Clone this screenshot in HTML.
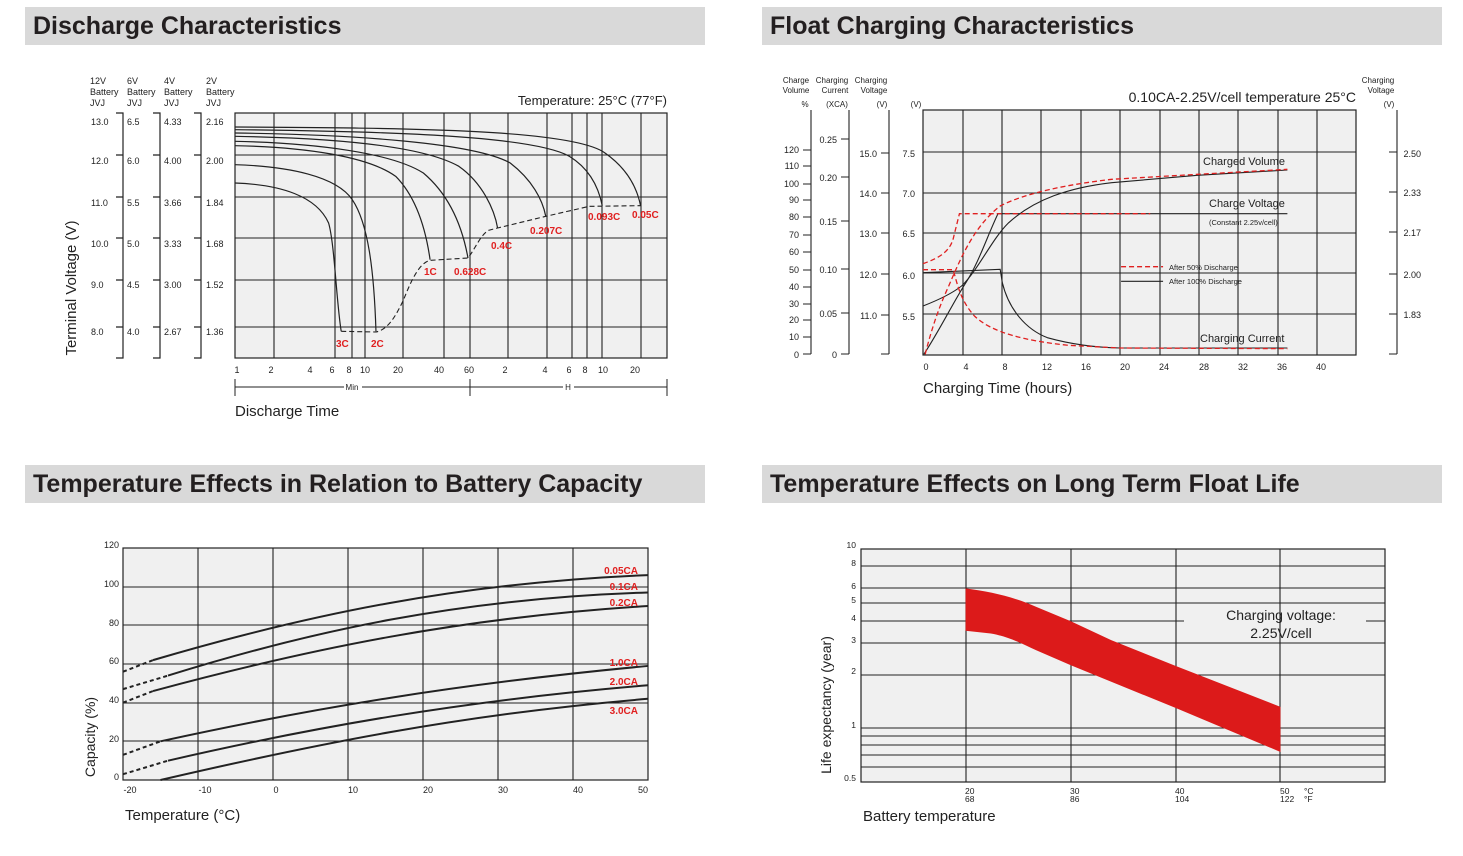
<!DOCTYPE html>
<html><head><meta charset="utf-8"><style>
body{margin:0;background:#fff;width:1463px;height:856px;overflow:hidden;font-family:"Liberation Sans",sans-serif}
svg{position:absolute;left:0;top:0}
text{font-family:"Liberation Sans",sans-serif}
</style></head><body>
<svg width="1463" height="856" viewBox="0 0 1463 856">
<rect x="25" y="7" width="680" height="38" fill="#d9d9d9"/>
<rect x="762" y="7" width="680" height="38" fill="#d9d9d9"/>
<rect x="25" y="465" width="680" height="38" fill="#d9d9d9"/>
<rect x="762" y="465" width="680" height="38" fill="#d9d9d9"/>
<g font-weight="bold" font-size="25" fill="#231f20">
<text x="33" y="34">Discharge Characteristics</text>
<text x="770" y="34">Float Charging Characteristics</text>
<text x="33" y="492">Temperature Effects in Relation to Battery Capacity</text>
<text x="770" y="492">Temperature Effects on Long Term Float Life</text>
</g>

<!-- ========== TOP LEFT ========== -->
<rect x="235" y="113" width="432" height="245" fill="#f0f0f0" stroke="#222" stroke-width="1.2"/>
<g stroke="#222" stroke-width="1.1">
<line x1="274" y1="113" x2="274" y2="358"/><line x1="335" y1="113" x2="335" y2="358"/>
<line x1="352" y1="113" x2="352" y2="358"/><line x1="365" y1="113" x2="365" y2="358"/>
<line x1="403" y1="113" x2="403" y2="358"/><line x1="444" y1="113" x2="444" y2="358"/>
<line x1="470" y1="113" x2="470" y2="358"/><line x1="508" y1="113" x2="508" y2="358"/>
<line x1="547" y1="113" x2="547" y2="358"/><line x1="572" y1="113" x2="572" y2="358"/>
<line x1="587" y1="113" x2="587" y2="358"/><line x1="602" y1="113" x2="602" y2="358"/>
<line x1="641" y1="113" x2="641" y2="358"/>
<line x1="235" y1="155" x2="667" y2="155"/><line x1="235" y1="197" x2="667" y2="197"/>
<line x1="235" y1="238" x2="667" y2="238"/><line x1="235" y1="280" x2="667" y2="280"/>
<line x1="235" y1="327" x2="667" y2="327"/>
</g>
<g transform="translate(235,113) scale(0.39488,0.33333) translate(-443,-130)" fill="none" stroke="#222">
<path vector-effect="non-scaling-stroke" stroke-width="1.2" d="M443 172 C900 175 1300 180 1380 250 C1440 300 1462 360 1470 408"/>
<path vector-effect="non-scaling-stroke" stroke-width="1.2" d="M443 180 C850 185 1200 200 1290 260 C1345 300 1365 360 1373 408"/>
<path vector-effect="non-scaling-stroke" stroke-width="1.2" d="M443 190 C750 195 1050 220 1140 280 C1195 330 1222 390 1230 440"/>
<path vector-effect="non-scaling-stroke" stroke-width="1.2" d="M443 200 C700 205 920 230 1010 290 C1070 340 1100 420 1108 475"/>
<path vector-effect="non-scaling-stroke" stroke-width="1.2" d="M443 215 C650 220 840 250 920 310 C990 380 1020 480 1033 565"/>
<path vector-effect="non-scaling-stroke" stroke-width="1.2" d="M443 228 C620 232 780 260 850 320 C900 380 925 470 937 570"/>
<path vector-effect="non-scaling-stroke" stroke-width="1.2" d="M443 285 C580 290 700 320 740 390 C780 460 795 600 800 785"/>
<path vector-effect="non-scaling-stroke" stroke-width="1.2" d="M443 340 C560 345 650 380 680 460 C695 520 700 700 712 785"/>
<path vector-effect="non-scaling-stroke" stroke-width="1.1" stroke-dasharray="5,3" d="M712 785 L800 787 C830 780 850 740 870 690 C890 630 910 580 937 572 L1033 565 C1050 540 1065 495 1085 482 L1108 475 L1230 440 L1340 410 L1470 408"/>
</g>
<g fill="#e02020" font-weight="bold" font-size="10">
<text x="336" y="347">3C</text><text x="371" y="347">2C</text>
<text x="424" y="275">1C</text><text x="454" y="275">0.628C</text>
<text x="491" y="249">0.4C</text><text x="530" y="234">0.207C</text>
<text x="588" y="220">0.093C</text><text x="632" y="218">0.05C</text>
</g>
<text x="667" y="105" font-size="13" text-anchor="end" fill="#222">Temperature: 25°C (77°F)</text>
<g font-size="9" fill="#222">
<text x="90" y="84">12V</text><text x="90" y="95">Battery</text><text x="90" y="106">JVJ</text>
<text x="127" y="84">6V</text><text x="127" y="95">Battery</text><text x="127" y="106">JVJ</text>
<text x="164" y="84">4V</text><text x="164" y="95">Battery</text><text x="164" y="106">JVJ</text>
<text x="206" y="84">2V</text><text x="206" y="95">Battery</text><text x="206" y="106">JVJ</text>
<text x="91" y="125">13.0</text><text x="91" y="164">12.0</text><text x="91" y="206">11.0</text><text x="91" y="247">10.0</text><text x="91" y="288">9.0</text><text x="91" y="335">8.0</text>
<text x="127" y="125">6.5</text><text x="127" y="164">6.0</text><text x="127" y="206">5.5</text><text x="127" y="247">5.0</text><text x="127" y="288">4.5</text><text x="127" y="335">4.0</text>
<text x="164" y="125">4.33</text><text x="164" y="164">4.00</text><text x="164" y="206">3.66</text><text x="164" y="247">3.33</text><text x="164" y="288">3.00</text><text x="164" y="335">2.67</text>
<text x="206" y="125">2.16</text><text x="206" y="164">2.00</text><text x="206" y="206">1.84</text><text x="206" y="247">1.68</text><text x="206" y="288">1.52</text><text x="206" y="335">1.36</text>
</g>
<g stroke="#222" stroke-width="1.2" fill="none">
<path d="M116 113 H123 V358 H116 M116 155 H123 M116 197 H123 M116 238 H123 M116 280 H123 M116 327 H123"/>
<path d="M153 113 H160 V358 H153 M153 155 H160 M153 197 H160 M153 238 H160 M153 280 H160 M153 327 H160"/>
<path d="M194 113 H201 V358 H194 M194 155 H201 M194 197 H201 M194 238 H201 M194 280 H201 M194 327 H201"/>
</g>
<text transform="translate(76,288) rotate(-90)" font-size="15" text-anchor="middle" fill="#222">Terminal Voltage (V)</text>
<g font-size="9" fill="#222" text-anchor="middle">
<text x="237" y="373">1</text><text x="271" y="373">2</text><text x="310" y="373">4</text><text x="332" y="373">6</text><text x="349" y="373">8</text><text x="365" y="373">10</text><text x="398" y="373">20</text><text x="439" y="373">40</text><text x="469" y="373">60</text><text x="505" y="373">2</text><text x="545" y="373">4</text><text x="569" y="373">6</text><text x="585" y="373">8</text><text x="603" y="373">10</text><text x="635" y="373">20</text>
<text x="352" y="390" font-size="8">Min</text><text x="568" y="390" font-size="8">H</text>
</g>
<g stroke="#222" stroke-width="1">
<line x1="235" y1="379" x2="235" y2="396"/><line x1="470" y1="379" x2="470" y2="396"/><line x1="667" y1="379" x2="667" y2="396"/>
<line x1="235" y1="387" x2="344" y2="387"/><line x1="362" y1="387" x2="470" y2="387"/>
<line x1="470" y1="387" x2="563" y2="387"/><line x1="574" y1="387" x2="667" y2="387"/>
</g>
<text x="235" y="416" font-size="15" fill="#222">Discharge Time</text>

<!-- ========== TOP RIGHT ========== -->
<rect x="923" y="110" width="433" height="245" fill="#f0f0f0" stroke="#222" stroke-width="1.2"/>
<g stroke="#222" stroke-width="1.1">
<line x1="963" y1="110" x2="963" y2="355"/><line x1="1002" y1="110" x2="1002" y2="355"/><line x1="1041" y1="110" x2="1041" y2="355"/>
<line x1="1081" y1="110" x2="1081" y2="355"/><line x1="1120" y1="110" x2="1120" y2="355"/><line x1="1160" y1="110" x2="1160" y2="355"/>
<line x1="1199" y1="110" x2="1199" y2="355"/><line x1="1238" y1="110" x2="1238" y2="355"/><line x1="1278" y1="110" x2="1278" y2="355"/>
<line x1="1317" y1="110" x2="1317" y2="355"/>
<line x1="923" y1="152" x2="1356" y2="152"/><line x1="923" y1="193" x2="1356" y2="193"/><line x1="923" y1="233" x2="1356" y2="233"/>
<line x1="923" y1="273" x2="1356" y2="273"/><line x1="923" y1="314" x2="1356" y2="314"/>
</g>
<g transform="translate(923,110) scale(0.4287,0.33333) translate(-360,-122)" fill="none">
<g stroke="#222" stroke-width="1.1">
<path vector-effect="non-scaling-stroke" d="M360 710 C400 690 430 670 450 650 C490 600 520 510 560 460 C620 390 700 355 800 340 L1000 318 L1210 302"/>
<path vector-effect="non-scaling-stroke" d="M362 855 C400 780 430 700 460 640 C490 580 510 500 535 433 L1210 433"/>
<path vector-effect="non-scaling-stroke" d="M360 610 L540 600 L545 640 C560 720 600 780 650 805 C720 830 780 835 820 836 L1210 836"/>
<path vector-effect="non-scaling-stroke" d="M822 636 L920 636"/>
</g>
<g stroke="#e02020" stroke-width="1.3" stroke-dasharray="5,3">
<path vector-effect="non-scaling-stroke" d="M360 583 C400 565 425 545 432 500 L445 433 L890 433"/>
<path vector-effect="non-scaling-stroke" d="M365 855 C380 780 395 720 420 650 C450 560 480 470 540 410 C600 370 700 345 800 330 L1000 315 L1210 300"/>
<path vector-effect="non-scaling-stroke" d="M360 601 L430 601 C440 640 445 690 480 740 C520 790 600 815 700 828 L820 836 L1210 838"/>
<path vector-effect="non-scaling-stroke" d="M822 592 L920 592"/>
</g>
</g>
<g font-size="11" fill="#222">
<text x="1203" y="165">Charged Volume</text>
<text x="1209" y="207">Charge Voltage</text>
<text x="1209" y="225" font-size="7.5">(Constant 2.25v/cell)</text>
<text x="1200" y="342">Charging Current</text>
<text x="1169" y="270" font-size="7.5">After   50% Discharge</text>
<text x="1169" y="284" font-size="7.5">After 100% Discharge</text>
</g>
<text x="1356" y="102" font-size="14" text-anchor="end" fill="#222">0.10CA-2.25V/cell  temperature 25°C</text>
<g font-size="8" fill="#222" text-anchor="middle">
<text x="796" y="83">Charge</text><text x="796" y="93">Volume</text><text x="805" y="107">%</text>
<text x="832" y="83">Charging</text><text x="835" y="93">Current</text><text x="837" y="107">(XCA)</text>
<text x="871" y="83">Charging</text><text x="874" y="93">Voltage</text><text x="882" y="107">(V)</text>
<text x="916" y="107">(V)</text>
<text x="1378" y="83">Charging</text><text x="1381" y="93">Voltage</text><text x="1389" y="107">(V)</text>
</g>
<g stroke="#222" stroke-width="1.1" fill="none">
<path d="M811 110 V354 M803 150 H811 M803 166 H811 M803 184 H811 M803 200 H811 M803 217 H811 M803 235 H811 M803 252 H811 M803 270 H811 M803 287 H811 M803 304 H811 M803 320 H811 M803 337 H811 M803 354 H811"/>
<path d="M849 110 V354 M841 139 H849 M841 177 H849 M841 221 H849 M841 269 H849 M841 313 H849 M841 354 H849"/>
<path d="M889 110 V354 M881 153 H889 M881 193 H889 M881 233 H889 M881 274 H889 M881 315 H889 M881 354 H889"/>
<path d="M1397 110 V354 M1389 152 H1397 M1389 192 H1397 M1389 232 H1397 M1389 274 H1397 M1389 314 H1397 M1389 354 H1397"/>
</g>
<g font-size="9" fill="#222" text-anchor="end">
<text x="799" y="153">120</text><text x="799" y="169">110</text><text x="799" y="187">100</text><text x="799" y="203">90</text><text x="799" y="220">80</text><text x="799" y="238">70</text><text x="799" y="255">60</text><text x="799" y="273">50</text><text x="799" y="290">40</text><text x="799" y="307">30</text><text x="799" y="323">20</text><text x="799" y="340">10</text><text x="799" y="358">0</text>
<text x="837" y="143">0.25</text><text x="837" y="181">0.20</text><text x="837" y="225">0.15</text><text x="837" y="273">0.10</text><text x="837" y="317">0.05</text><text x="837" y="358">0</text>
<text x="877" y="157">15.0</text><text x="877" y="197">14.0</text><text x="877" y="237">13.0</text><text x="877" y="278">12.0</text><text x="877" y="319">11.0</text>
<text x="915" y="157">7.5</text><text x="915" y="197">7.0</text><text x="915" y="237">6.5</text><text x="915" y="279">6.0</text><text x="915" y="320">5.5</text>
<text x="1421" y="157">2.50</text><text x="1421" y="196">2.33</text><text x="1421" y="236">2.17</text><text x="1421" y="278">2.00</text><text x="1421" y="318">1.83</text>
</g>
<g font-size="9" fill="#222" text-anchor="middle">
<text x="926" y="370">0</text><text x="966" y="370">4</text><text x="1005" y="370">8</text><text x="1047" y="370">12</text><text x="1086" y="370">16</text><text x="1125" y="370">20</text><text x="1164" y="370">24</text><text x="1204" y="370">28</text><text x="1243" y="370">32</text><text x="1282" y="370">36</text><text x="1321" y="370">40</text>
</g>
<text x="923" y="393" font-size="15" fill="#222">Charging Time (hours)</text>

<!-- ========== BOTTOM LEFT ========== -->
<rect x="123" y="548" width="525" height="232" fill="#f0f0f0" stroke="#222" stroke-width="1.2"/>
<g stroke="#222" stroke-width="1.1">
<line x1="198" y1="548" x2="198" y2="780"/><line x1="273" y1="548" x2="273" y2="780"/><line x1="348" y1="548" x2="348" y2="780"/>
<line x1="423" y1="548" x2="423" y2="780"/><line x1="498" y1="548" x2="498" y2="780"/><line x1="573" y1="548" x2="573" y2="780"/>
<line x1="123" y1="587" x2="648" y2="587"/><line x1="123" y1="625" x2="648" y2="625"/><line x1="123" y1="664" x2="648" y2="664"/>
<line x1="123" y1="703" x2="648" y2="703"/><line x1="123" y1="741" x2="648" y2="741"/>
</g>
<g transform="translate(123,780) scale(7.5,-1.93333) translate(20,0)" fill="none" stroke="#222">
<g stroke-width="2" stroke-dasharray="4,3">
<path vector-effect="non-scaling-stroke" d="M-20 56 L-16 62"/>
<path vector-effect="non-scaling-stroke" d="M-20 47 L-14 54"/>
<path vector-effect="non-scaling-stroke" d="M-20 40 L-16 46"/>
<path vector-effect="non-scaling-stroke" d="M-20 13 L-15 20"/>
<path vector-effect="non-scaling-stroke" d="M-20 3 L-14 10"/>
</g>
<g stroke-width="2">
<path vector-effect="non-scaling-stroke" d="M-16 62 C5 86 25 102 50 106"/>
<path vector-effect="non-scaling-stroke" d="M-14 54 C5 77 25 94 50 97"/>
<path vector-effect="non-scaling-stroke" d="M-16 46 C5 68 25 84 50 90"/>
<path vector-effect="non-scaling-stroke" d="M-15 20 C5 37 25 50 50 59"/>
<path vector-effect="non-scaling-stroke" d="M-14 10 C5 27 25 41 50 49"/>
<path vector-effect="non-scaling-stroke" d="M-15 0 C5 18 25 34 50 42"/>
</g>
</g>
<g fill="#e02020" font-weight="bold" font-size="10" text-anchor="end">
<text x="638" y="574">0.05CA</text><text x="638" y="590">0.1CA</text><text x="638" y="606">0.2CA</text>
<text x="638" y="666">1.0CA</text><text x="638" y="685">2.0CA</text><text x="638" y="714">3.0CA</text>
</g>
<g font-size="9" fill="#222" text-anchor="end">
<text x="119" y="548">120</text><text x="119" y="587">100</text><text x="119" y="626">80</text><text x="119" y="664">60</text><text x="119" y="703">40</text><text x="119" y="742">20</text><text x="119" y="780">0</text>
</g>
<g font-size="9" fill="#222" text-anchor="middle">
<text x="130" y="793">-20</text><text x="205" y="793">-10</text><text x="276" y="793">0</text><text x="353" y="793">10</text><text x="428" y="793">20</text><text x="503" y="793">30</text><text x="578" y="793">40</text><text x="643" y="793">50</text>
</g>
<text transform="translate(95,737) rotate(-90)" font-size="14" text-anchor="middle" fill="#222">Capacity (%)</text>
<text x="125" y="820" font-size="15" fill="#222">Temperature (°C)</text>

<!-- ========== BOTTOM RIGHT ========== -->
<rect x="861" y="549" width="524" height="233" fill="#f0f0f0" stroke="#222" stroke-width="1.2"/>
<g stroke="#222" stroke-width="1.1">
<line x1="966" y1="549" x2="966" y2="782"/><line x1="1071" y1="549" x2="1071" y2="782"/><line x1="1176" y1="549" x2="1176" y2="782"/><line x1="1280" y1="549" x2="1280" y2="782"/>
<line x1="861" y1="566" x2="1385" y2="566"/><line x1="861" y1="588" x2="1385" y2="588"/><line x1="861" y1="603" x2="1385" y2="603"/>
<line x1="861" y1="621" x2="1184" y2="621"/><line x1="1366" y1="621" x2="1385" y2="621"/>
<line x1="861" y1="643" x2="1385" y2="643"/><line x1="861" y1="675" x2="1385" y2="675"/><line x1="861" y1="728" x2="1385" y2="728"/>
<line x1="861" y1="736" x2="1385" y2="736"/><line x1="861" y1="745" x2="1385" y2="745"/><line x1="861" y1="755" x2="1385" y2="755"/><line x1="861" y1="767" x2="1385" y2="767"/>
</g>
<g transform="translate(861,549) scale(0.3762,0.3338) translate(-135,-42)">
<path fill="#dc1a1a" d="M413 160 C480 170 540 185 600 215 L692 258 L800 315 L971 392 L1250 515 L1250 650 L971 518 L692 390 L600 345 C560 325 530 305 480 295 L413 287 Z"/>
</g>
<text x="1281" y="620" font-size="14" text-anchor="middle" fill="#222">Charging voltage:</text>
<text x="1281" y="638" font-size="14" text-anchor="middle" fill="#222">2.25V/cell</text>
<g font-size="8.5" fill="#222" text-anchor="end">
<text x="856" y="548">10</text><text x="856" y="566">8</text><text x="856" y="589">6</text><text x="856" y="603">5</text><text x="856" y="621">4</text><text x="856" y="643">3</text><text x="856" y="674">2</text><text x="856" y="728">1</text><text x="856" y="781">0.5</text>
</g>
<g font-size="8.5" fill="#222">
<text x="965" y="794">20</text><text x="965" y="802">68</text>
<text x="1070" y="794">30</text><text x="1070" y="802">86</text>
<text x="1175" y="794">40</text><text x="1175" y="802">104</text>
<text x="1280" y="794">50</text><text x="1280" y="802">122</text>
<text x="1304" y="794">°C</text><text x="1304" y="802">°F</text>
</g>
<text transform="translate(831,705) rotate(-90)" font-size="14" text-anchor="middle" fill="#222">Life expectancy (year)</text>
<text x="863" y="821" font-size="15" fill="#222">Battery temperature</text>
</svg>
</body></html>
